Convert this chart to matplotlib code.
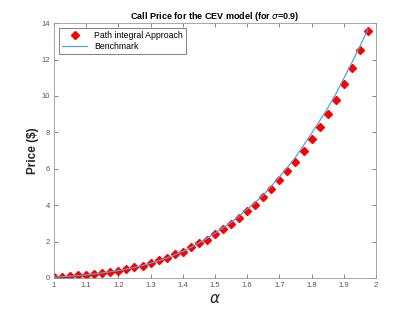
import numpy as np
import matplotlib
matplotlib.use("Agg")
import matplotlib.pyplot as plt

plt.rcParams["font.family"] = ["Liberation Sans", "DejaVu Sans"]

# alpha grid
alpha = [1.000, 1.025, 1.050, 1.075, 1.100, 1.125, 1.150, 1.175, 1.200, 1.225,
         1.250, 1.275, 1.300, 1.325, 1.350, 1.375, 1.400, 1.425, 1.450, 1.475,
         1.500, 1.525, 1.550, 1.575, 1.600, 1.625, 1.650, 1.675, 1.700, 1.725,
         1.750, 1.775, 1.800, 1.825, 1.850, 1.875, 1.900, 1.925, 1.950, 1.975]

# path integral approach prices
path_price = [0.07, 0.07, 0.11, 0.15, 0.16, 0.24, 0.29, 0.35, 0.40, 0.48,
              0.60, 0.68, 0.81, 0.97, 1.12, 1.30, 1.45, 1.70, 1.92, 2.10,
              2.42, 2.69, 2.97, 3.31, 3.68, 4.03, 4.43, 4.89, 5.37, 5.88,
              6.39, 7.00, 7.64, 8.31, 9.00, 9.78, 10.64, 11.52, 12.50, 13.57]

# benchmark prices
bench_price = [0.05, 0.07, 0.10, 0.13, 0.17, 0.22, 0.28, 0.34, 0.41, 0.49,
               0.58, 0.69, 0.81, 0.95, 1.10, 1.27, 1.46, 1.68, 1.93, 2.18,
               2.46, 2.76, 3.06, 3.40, 3.78, 4.15, 4.56, 5.04, 5.55, 6.08,
               6.63, 7.28, 7.94, 8.63, 9.33, 10.10, 10.96, 11.82, 12.72, 13.67]

x_ticks = [1, 1.1, 1.2, 1.3, 1.4, 1.5, 1.6, 1.7, 1.8, 1.9, 2]
x_labels = ["1", "1.1", "1.2", "1.3", "1.4", "1.5", "1.6", "1.7", "1.8", "1.9", "2"]
y_ticks = [0, 2, 4, 6, 8, 10, 12, 14]

fig = plt.figure(figsize=(4.15, 3.12), dpi=100)
ax = fig.add_axes([0.130, 0.109, 0.776, 0.817])

ax.plot(alpha, path_price, linestyle="none", marker="D", markersize=3.6,
        color="red", markeredgecolor="red", label="Path integral Approach")
ax.plot(alpha, bench_price, color="#4da6dc", linewidth=0.9, label="Benchmark")

ax.set_xlim(1, 2)
ax.set_ylim(0, 14)
ax.set_xticks(x_ticks)
ax.set_xticklabels(x_labels)
ax.set_yticks(y_ticks)

gray = "#262626"
for sp in ax.spines.values():
    sp.set_color("#9a9a9a")
    sp.set_linewidth(0.6)
ax.tick_params(direction="in", top=True, right=True, length=3, width=0.5,
               colors="#555555", labelsize=5.5, pad=3)

ax.set_title(r"Call Price for the CEV model (for $\sigma$=0.9)", fontsize=6.5,
             fontweight="bold", pad=3)
ax.set_ylabel("Price ($)", fontsize=8.5, fontweight="bold", color=gray, labelpad=2)
ax.set_xlabel(r"$\alpha$", fontsize=11, color=gray, labelpad=2)

leg = ax.legend(loc="upper left", fontsize=6.3, frameon=True, fancybox=False,
                edgecolor="#4a4a4a", borderpad=0.35, handlelength=2.8,
                labelspacing=0.15, borderaxespad=0.6)
leg.get_frame().set_linewidth(0.6)

fig.savefig("out.png", dpi=100)
